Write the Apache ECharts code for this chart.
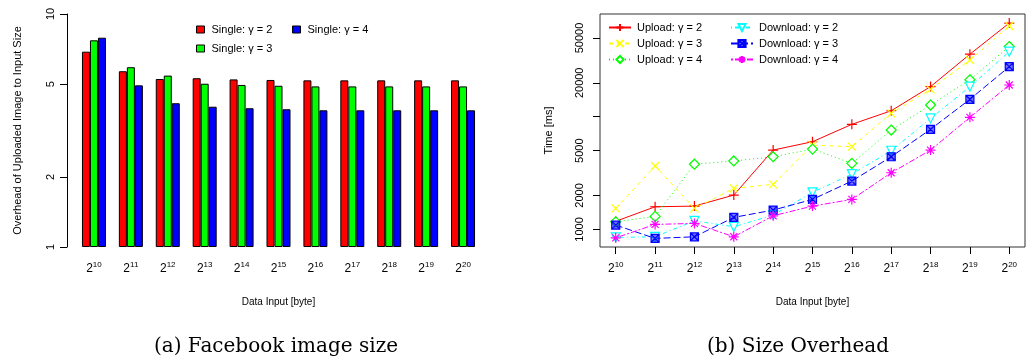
<!DOCTYPE html>
<html>
<head>
<meta charset="utf-8">
<script src="https://cdn.jsdelivr.net/npm/echarts@6.0.0/dist/echarts.min.js"></script>
<style>
  html, body { margin: 0; padding: 0; background: #fff; }
  #main { width: 1027px; height: 362px; }
</style>
</head>
<body>
<div id="main"></div>
<script>
// exponents of the x axis (2^10 .. 2^20)
var exps = [10, 11, 12, 13, 14, 15, 16, 17, 18, 19, 20];

// (a) overhead of uploaded image
var singleG2 = [6.89, 5.68, 5.26, 5.30, 5.24, 5.21, 5.19, 5.19, 5.19, 5.19, 5.19];
var singleG3 = [7.71, 5.91, 5.44, 5.02, 4.96, 4.92, 4.89, 4.89, 4.89, 4.89, 4.89];
var singleG4 = [7.91, 4.94, 4.14, 4.00, 3.94, 3.90, 3.86, 3.86, 3.86, 3.86, 3.86];
var leftTicks = [1, 2, 5, 10];

// (b) time in ms
var uploadG2 = [1180, 1588, 1610, 2017, 5060, 6000, 8560, 11300, 18500, 35900, 67800];
var uploadG3 = [1536, 3650, 1536, 2312, 2510, 5600, 5420, 10720, 17500, 31900, 63900];
var uploadG4 = [1168, 1305, 3790, 4050, 4415, 5165, 3855, 7620, 12700, 21300, 42000];
var downloadG2 = [849, 860, 1192, 1055, 1340, 2132, 3098, 4990, 9660, 18470, 37800];
var downloadG3 = [1092, 832, 860, 1278, 1484, 1846, 2685, 4415, 7730, 14280, 27800];
var downloadG4 = [842, 1107, 1131, 860, 1321, 1610, 1846, 3182, 5060, 9880, 19130];
var rightTicks = [1000, 2000, 5000, 10000, 20000, 50000];
var rightLabels = [1000, 2000, 5000, 20000, 50000];

var FONT = 'Liberation Sans';

function supLabel(e) {
    return '{b|2}{s|' + e + '}';
}
var supRich = {
    b: {fontSize: 12, fontFamily: FONT, color: '#000'},
    s: {fontSize: 8, fontFamily: FONT, color: '#000', padding: [0, 0, 7, 0]}
};

function pts(arr) {
    return arr.map(function (v, i) { return [i + 1, v]; });
}

function lineSeries(name, data, color, dash, symbol, size, fill) {
    return {
        name: name,
        type: 'line',
        xAxisIndex: 1,
        yAxisIndex: 1,
        data: pts(data),
        symbol: symbol,
        symbolSize: size,
        lineStyle: {color: color, width: 1, type: dash},
        itemStyle: {color: fill || 'rgba(0,0,0,0)', borderColor: color, borderWidth: 1.2},
        emphasis: {disabled: true},
        animation: false
    };
}

var chart = echarts.init(document.getElementById('main'));

var option = {
    animation: false,
    textStyle: {fontFamily: FONT},
    grid: [
        {left: 75.5, top: 14, width: 406, height: 233},
        {left: 600, top: 14, width: 425, height: 233, show: true, borderColor: '#333', borderWidth: 1}
    ],
    legend: [
        {
            data: ['Single: γ = 2', 'Single: γ = 3'],
            orient: 'vertical', left: 191, top: 19,
            icon: 'rect', itemWidth: 8, itemHeight: 7, itemGap: 8,
            itemStyle: {borderColor: '#000', borderWidth: 1},
            textStyle: {fontSize: 11, color: '#000', padding: [0, 0, 0, 2]}
        },
        {
            data: ['Single: γ = 4'],
            orient: 'vertical', left: 287, top: 19,
            icon: 'rect', itemWidth: 8, itemHeight: 7,
            itemStyle: {borderColor: '#000', borderWidth: 1},
            textStyle: {fontSize: 11, color: '#000', padding: [0, 0, 0, 2]}
        },
        {
            data: ['Upload: γ = 2', 'Upload: γ = 3', 'Upload: γ = 4'],
            orient: 'vertical', left: 603, top: 17,
            itemWidth: 22, itemHeight: 9, itemGap: 5,
            textStyle: {fontSize: 11, color: '#000', padding: [0, 0, 0, 1]}
        },
        {
            data: ['Download: γ = 2', 'Download: γ = 3', 'Download: γ = 4'],
            orient: 'vertical', left: 725, top: 17,
            itemWidth: 22, itemHeight: 9, itemGap: 5,
            textStyle: {fontSize: 11, color: '#000', padding: [0, 0, 0, 1]}
        }
    ],
    xAxis: [
        {
            type: 'category', gridIndex: 0,
            data: exps,
            axisLine: {show: false},
            axisTick: {show: false},
            axisLabel: {interval: 0, margin: 14, formatter: supLabel, rich: supRich},
            name: 'Data Input [byte]', nameLocation: 'middle', nameGap: 50,
            nameTextStyle: {fontSize: 10, color: '#000'}
        },
        {
            type: 'value', gridIndex: 1,
            min: 0.6, max: 11.4,
            axisLine: {show: false},
            splitLine: {show: false},
            axisTick: {show: true, length: 7, lineStyle: {color: '#000'}, customValues: exps.map(function (e, i) { return i + 1; })},
            axisLabel: {
                margin: 14,
                customValues: exps.map(function (e, i) { return i + 1; }),
                formatter: function (v) { return supLabel(exps[Math.round(v) - 1]); },
                rich: supRich
            },
            name: 'Data Input [byte]', nameLocation: 'middle', nameGap: 50,
            nameTextStyle: {fontSize: 10, color: '#000'}
        }
    ],
    yAxis: [
        {
            type: 'log', gridIndex: 0, logBase: 10,
            min: 1, max: 10, offset: 8.5,
            axisLine: {show: true, lineStyle: {color: '#000'}},
            axisTick: {show: true, length: 7, lineStyle: {color: '#000'}, customValues: leftTicks},
            axisLabel: {rotate: 90, margin: 11, fontSize: 11, color: '#000', customValues: leftTicks,
                        formatter: function (v) { return String(v); }},
            splitLine: {show: false},
            name: 'Overhead of Uploaded Image to Input Size', nameLocation: 'middle', nameGap: 44,
            nameTextStyle: {fontSize: 11, color: '#000'}
        },
        {
            type: 'log', gridIndex: 1, logBase: 10,
            min: 698, max: 81600,
            axisLine: {show: false},
            axisTick: {show: true, length: 7, lineStyle: {color: '#000'}, customValues: rightTicks},
            axisLabel: {rotate: 90, margin: 15, fontSize: 11, color: '#000', customValues: rightLabels,
                        formatter: function (v) { return String(Math.round(v)); }},
            splitLine: {show: false},
            name: 'Time [ms]', nameLocation: 'middle', nameGap: 46,
            nameTextStyle: {fontSize: 11, color: '#000'}
        }
    ],
    series: [
        {name: 'Single: γ = 2', type: 'bar', data: singleG2, barWidth: 8, barGap: '0%',
         itemStyle: {color: '#ff0000', borderColor: '#000', borderWidth: 1}},
        {name: 'Single: γ = 3', type: 'bar', data: singleG3, barWidth: 8, barGap: '0%',
         itemStyle: {color: '#00ff00', borderColor: '#000', borderWidth: 1}},
        {name: 'Single: γ = 4', type: 'bar', data: singleG4, barWidth: 8, barGap: '0%',
         itemStyle: {color: '#0000ff', borderColor: '#000', borderWidth: 1}},
        lineSeries('Upload: γ = 2', uploadG2, '#ff0000', 'solid', 'path://M5,0L5,10M0,5L10,5', 10),
        lineSeries('Upload: γ = 3', uploadG3, '#ffff00', [4, 4], 'path://M0,0L10,10M0,10L10,0', 8),
        lineSeries('Upload: γ = 4', uploadG4, '#00ff00', [1, 3], 'diamond', 10, '#fff'),
        lineSeries('Download: γ = 2', downloadG2, '#00ffff', [1, 3, 4, 3], 'path://M0,0L10,0L5,9Z', 9, '#fff'),
        lineSeries('Download: γ = 3', downloadG3, '#0000ff', [7, 3], 'path://M0,0L10,0L10,10L0,10ZM0,0L10,10M10,0L0,10', 8, 'rgba(0,0,255,0.55)'),
        lineSeries('Download: γ = 4', downloadG4, '#ff00ff', [2, 2, 6, 2], 'path://M0,5L10,5M5,0L5,10M1.5,1.5L8.5,8.5M1.5,8.5L8.5,1.5', 10)
    ],
    graphic: [
        {type: 'text', style: {text: '(a) Facebook image size', x: 276, y: 347, align: 'center', verticalAlign: 'middle', font: '20px "DejaVu Serif"', fill: '#000'}},
        {type: 'text', style: {text: '(b) Size Overhead', x: 798, y: 347, align: 'center', verticalAlign: 'middle', font: '20px "DejaVu Serif"', fill: '#000'}}
    ]
};

chart.setOption(option);
</script>
</body>
</html>
